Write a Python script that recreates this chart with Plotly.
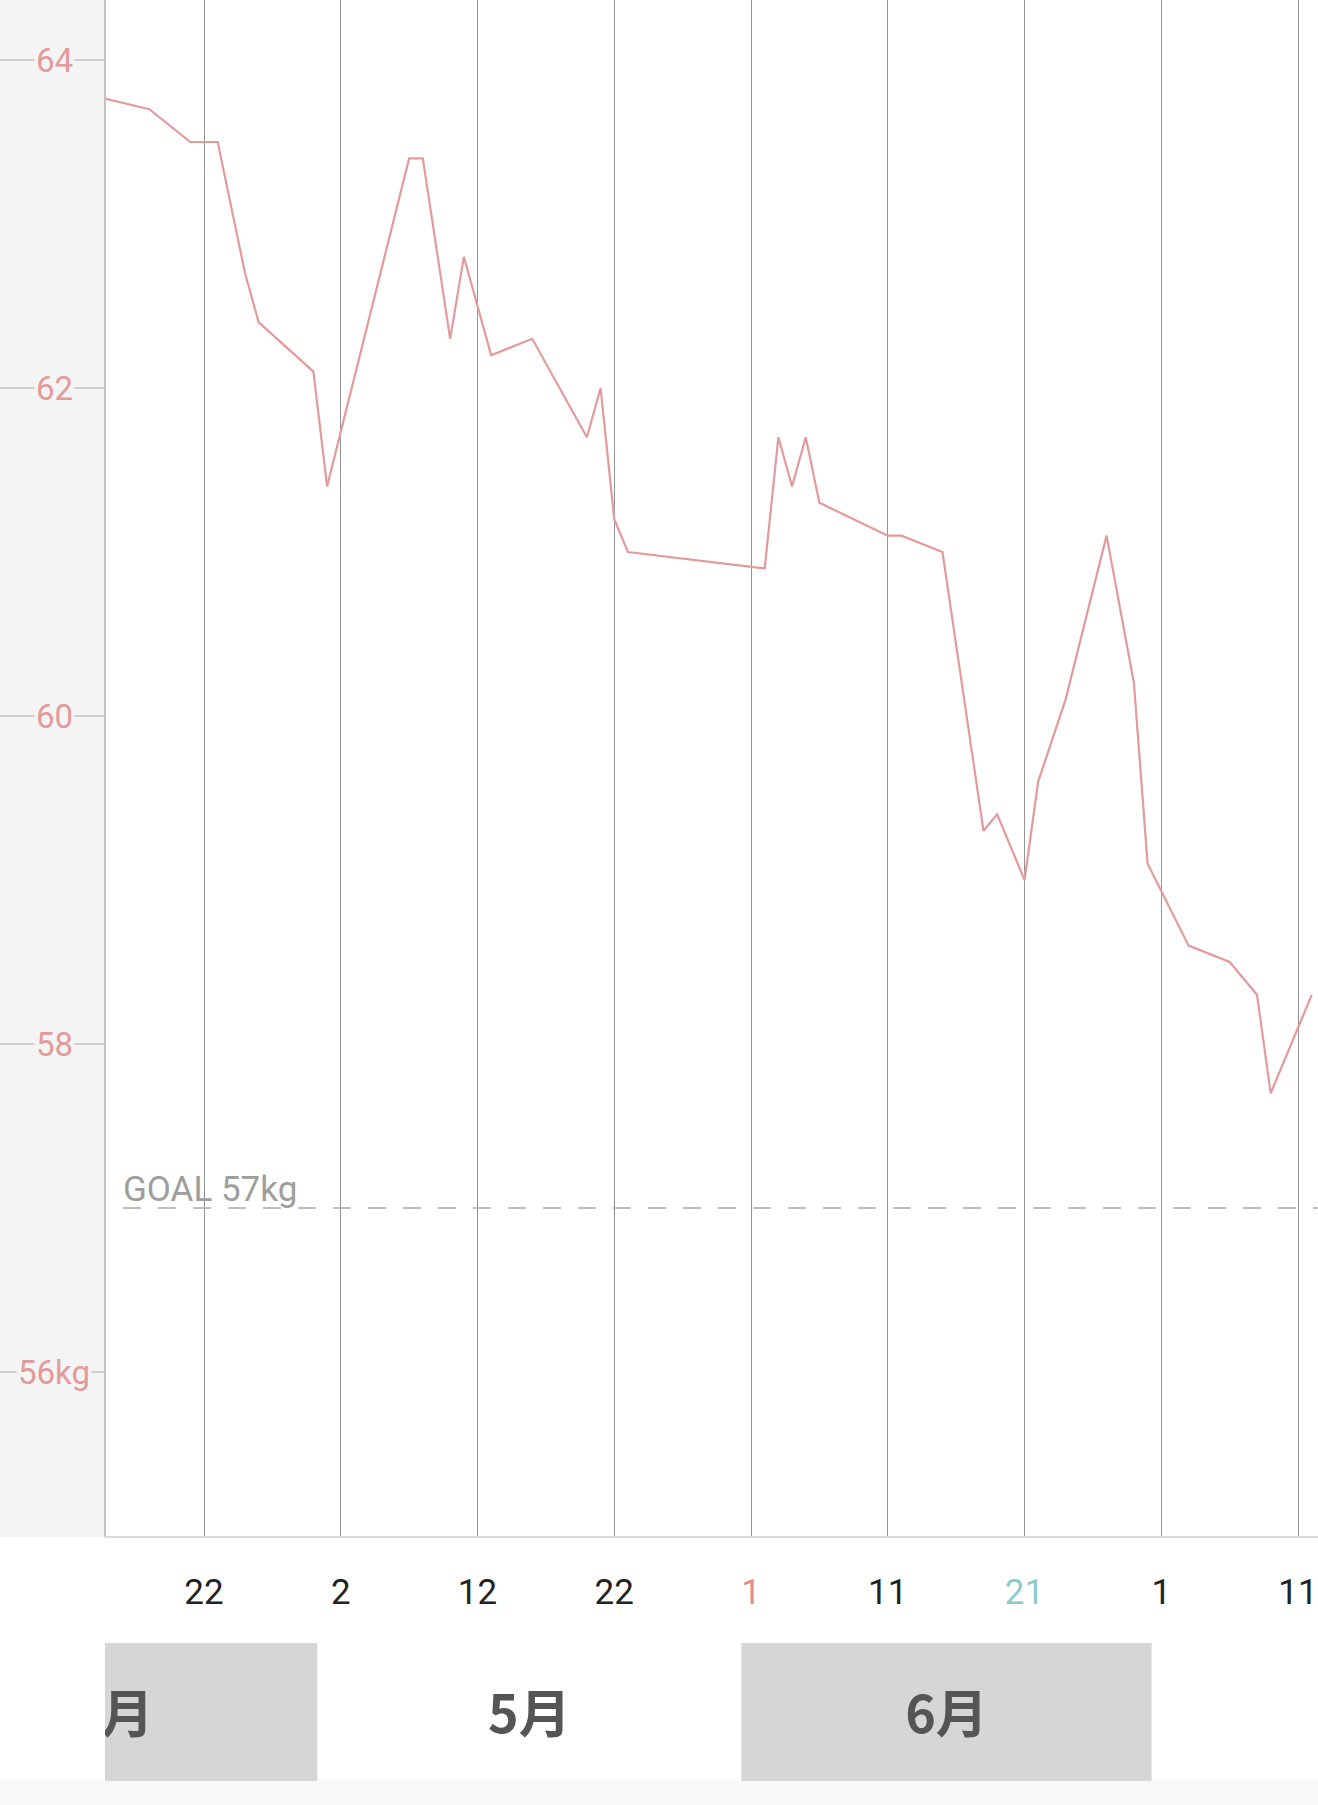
import plotly.graph_objects as go
import pandas as pd

# ---------------- data ----------------
dates = ["2025-04-14", "2025-04-18", "2025-04-21", "2025-04-23", "2025-04-25", "2025-04-26",
         "2025-04-30", "2025-05-01", "2025-05-07", "2025-05-08", "2025-05-10", "2025-05-11",
         "2025-05-13", "2025-05-16", "2025-05-20", "2025-05-21", "2025-05-22", "2025-05-23",
         "2025-06-02", "2025-06-03", "2025-06-04", "2025-06-05", "2025-06-06", "2025-06-11",
         "2025-06-12", "2025-06-15", "2025-06-18", "2025-06-19", "2025-06-21", "2025-06-22",
         "2025-06-24", "2025-06-27", "2025-06-29", "2025-06-30", "2025-07-03", "2025-07-06",
         "2025-07-08", "2025-07-09", "2025-07-12"]
weights = [63.78, 63.70, 63.50, 63.50, 62.70, 62.40,
           62.10, 61.40, 63.40, 63.40, 62.30, 62.80,
           62.20, 62.30, 61.70, 62.00, 61.20, 61.00,
           60.90, 61.70, 61.40, 61.70, 61.30, 61.10,
           61.10, 61.00, 59.30, 59.40, 59.00, 59.60,
           60.10, 61.10, 60.20, 59.10, 58.60, 58.50,
           58.30, 57.70, 58.30]

tick_dates = ["2025-04-22", "2025-05-02", "2025-05-12", "2025-05-22", "2025-06-01",
              "2025-06-11", "2025-06-21", "2025-07-01", "2025-07-11"]
tick_labels = ["22", "2", "12", "22", "1", "11", "21", "1", "11"]
tick_colors = ["#222222", "#222222", "#222222", "#222222", "#e38e8e",
               "#222222", "#8ccbcd", "#222222", "#222222"]

y_ticks = [56, 58, 60, 62, 64]
y_tick_labels = ["56kg", "58", "60", "62", "64"]

goal = 57
goal_label = "GOAL 57kg"

month_starts = ["2025-04-01", "2025-05-01", "2025-06-01", "2025-07-01"]
month_ends = ["2025-05-01", "2025-06-01", "2025-07-01", "2025-08-01"]
month_labels = ["4月", "5月", "6月", ""]
month_shaded = [True, False, True, False]

# ---------------- layout constants ----------------
W, H = 1318, 1805
LEFT = 105
PLOT_BOTTOM = 1537
BAND_TOP, BAND_BOTTOM = 1643, 1781
x_range = ["2025-04-14 18:14", "2025-07-12 11:02"]
y_range = [54.994, 64.366]

LINE_COLOR = "#e39a9c"
PANEL = "#f4f4f4"

fig = go.Figure()

fig.add_trace(go.Scatter(
    x=dates, y=weights, mode="lines",
    line=dict(color=LINE_COLOR, width=2.2),
    xaxis="x", yaxis="y", hoverinfo="skip", showlegend=False,
))

# month bands (second subplot, clipped to plot width)
shift = pd.Timedelta(hours=17)
shapes = []
mid_x, mid_lbl = [], []
for s, e, lbl, shaded in zip(month_starts, month_ends, month_labels, month_shaded):
    x0, x1 = pd.Timestamp(s) - shift, pd.Timestamp(e) - shift
    if shaded:
        shapes.append(dict(type="rect", xref="x2", yref="y2", x0=x0, x1=x1, y0=0, y1=1,
                           fillcolor="#d6d6d6", line=dict(width=0), layer="below"))
    if lbl:
        mid_x.append(x0 + (x1 - x0) / 2)
        mid_lbl.append(lbl)

fig.add_trace(go.Scatter(
    x=mid_x, y=[0.44] * len(mid_x), mode="text", text=mid_lbl,
    textfont=dict(family="Noto Sans CJK JP", size=52, color="#555555", weight="bold"),
    xaxis="x2", yaxis="y2", hoverinfo="skip", showlegend=False, cliponaxis=True,
))

# left panel background
shapes.append(dict(type="rect", xref="paper", yref="paper", x0=0, x1=LEFT / W,
                   y0=(H - PLOT_BOTTOM) / H, y1=1, fillcolor=PANEL, line=dict(width=0), layer="below"))
# bottom strip
shapes.append(dict(type="rect", xref="paper", yref="paper", x0=0, x1=1,
                   y0=0, y1=(H - BAND_BOTTOM) / H, fillcolor="#f8f8f8", line=dict(width=0), layer="below"))
# left axis line
shapes.append(dict(type="line", xref="paper", yref="paper", x0=LEFT / W, x1=LEFT / W,
                   y0=(H - PLOT_BOTTOM) / H, y1=1, line=dict(color="#c4c4c4", width=2)))
# bottom border
shapes.append(dict(type="line", xref="paper", yref="paper", x0=LEFT / W, x1=1,
                   y0=(H - PLOT_BOTTOM) / H, y1=(H - PLOT_BOTTOM) / H, line=dict(color="#dcdcdc", width=2)))
# y tick lines in left panel
for v in y_ticks:
    shapes.append(dict(type="line", xref="paper", yref="y", x0=0, x1=LEFT / W, y0=v, y1=v,
                       line=dict(color="#a8a8a8", width=1.2)))
# goal line
shapes.append(dict(type="line", xref="paper", yref="y", x0=123 / W, x1=1, y0=goal, y1=goal,
                   line=dict(color="#aaaaaa", width=1.6, dash="18px,17px")))

annotations = []
for v, t in zip(y_ticks, y_tick_labels):
    annotations.append(dict(xref="paper", yref="y", x=54 / W, y=v, text=t, showarrow=False,
                            xanchor="center", yanchor="middle", bgcolor=PANEL, borderpad=1,
                            font=dict(family="Roboto", size=33, color="#e39a9a")))
annotations.append(dict(xref="paper", yref="y", x=121 / W, y=goal, text=goal_label, showarrow=False,
                        xanchor="left", yanchor="bottom", yshift=-4,
                        font=dict(family="Roboto", size=35, color="#9e9e9e")))

ticktext = [f'<span style="color:{c}">{t}</span>' for t, c in zip(tick_labels, tick_colors)]

fig.update_layout(
    width=W, height=H, margin=dict(l=0, r=0, t=0, b=0),
    paper_bgcolor="white", plot_bgcolor="white",
    showlegend=False,
    xaxis=dict(domain=[LEFT / W, 1], range=x_range, type="date",
               tickvals=tick_dates, ticktext=ticktext, showgrid=True,
               gridcolor="#949494", gridwidth=1.3, zeroline=False, showline=False,
               ticks="", ticklabelstandoff=31,
               tickfont=dict(family="Roboto", size=35, color="#222222"), anchor="y"),
    yaxis=dict(domain=[(H - PLOT_BOTTOM) / H, 1], range=y_range, showgrid=False,
               zeroline=False, showticklabels=False, ticks="", anchor="x"),
    xaxis2=dict(domain=[LEFT / W, 1], range=x_range, type="date", visible=False, anchor="y2"),
    yaxis2=dict(domain=[(H - BAND_BOTTOM) / H, (H - BAND_TOP) / H], range=[0, 1],
                visible=False, anchor="x2"),
    shapes=shapes, annotations=annotations,
)

fig.write_html("out.html", config={"displayModeBar": False},
               post_script="document.body.style.margin='0';")
